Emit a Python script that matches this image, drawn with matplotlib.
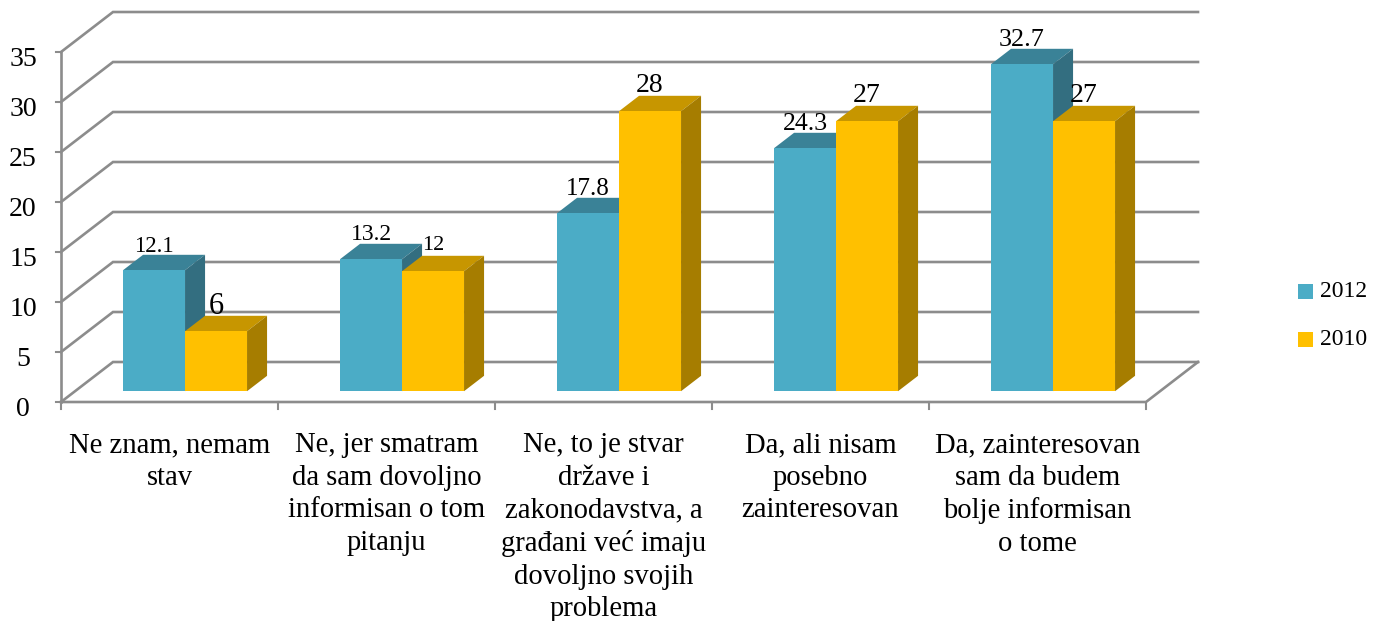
import matplotlib
matplotlib.use("Agg")
import matplotlib.pyplot as plt
from matplotlib.patches import Polygon, Rectangle

categories = ["Ne znam, nemam\nstav",
              "Ne, jer smatram\nda sam dovoljno\ninformisan o tom\npitanju",
              "Ne, to je stvar\ndržave i\nzakonodavstva, a\ngrađani već imaju\ndovoljno svojih\nproblema",
              "Da, ali nisam\nposebno\nzainteresovan",
              "Da, zainteresovan\nsam da budem\nbolje informisan\no tome"]
v2012 = [12.1, 13.2, 17.8, 24.3, 32.7]
v2010 = [6, 12, 28, 27, 27]
lab2012 = ["12.1", "13.2", "17.8", "24.3", "32.7"]
lab2010 = ["6", "12", "28", "27", "27"]
lab_size_2012 = [16.5, 17, 18, 18.5, 18.8]
lab_size_2010 = [22, 16, 20, 20, 20]
yticks = [0, 5, 10, 15, 20, 25, 30, 35]

W, H = 1383, 621
plt.rcParams['font.family'] = ['Liberation Serif', 'DejaVu Serif']
fig = plt.figure(figsize=(W/100, H/100), dpi=100, facecolor='white')
ax = fig.add_axes([0, 0, 1, 1])
# x unit: one category = 217 px; y unit: one value = 10 px
X0, Y0, CW, VH = 61, 402, 217, 10
ax.set_xlim(-X0/CW, (W-X0)/CW)
ax.set_ylim(-(H-Y0)/VH, Y0/VH)
ax.axis('off')

DX, DY = 52/CW, 40/VH     # whole floor depth
def P(c, v, d=0.0):
    return (c + d*DX, v + d*DY)

GRID = '#8c8c8c'
for t in yticks:
    ax.plot(*zip(P(0, t), P(0, t, 1), P(5, t, 1)), color=GRID, lw=1.9, zorder=1, solid_joinstyle='miter')
    ax.plot(*zip(P(0, t), (P(0, t)[0]-5/CW, t)), color=GRID, lw=1.5, zorder=1)
    ax.text(P(0, t)[0]-38/CW, t-0.75, str(t), ha='center', va='center', fontsize=20, color='black')
ax.plot(*zip(P(0, 0), P(0, 35)), color=GRID, lw=1.9, zorder=1)
ax.plot(*zip(P(0, 0), P(5, 0), P(5, 0, 1)), color=GRID, lw=1.9, zorder=1)
for i in range(6):
    ax.plot(*zip(P(i, 0), (i, -0.7)), color=GRID, lw=1.5, zorder=1)

D0, D1 = 0.27, 0.655
BW = 62/CW
OFFS = 48/CW
def bar(x, val, face, top, side, z):
    ax.add_patch(Polygon([P(x, val, D0), P(x+BW, val, D0), P(x+BW, val, D1), P(x, val, D1)], fc=top, ec='none', zorder=z))
    ax.add_patch(Polygon([P(x+BW, 0, D0), P(x+BW, val, D0), P(x+BW, val, D1), P(x+BW, 0, D1)], fc=side, ec='none', zorder=z))
    ax.add_patch(Polygon([P(x, 0, D0), P(x+BW, 0, D0), P(x+BW, val, D0), P(x, val, D0)], fc=face, ec='none', zorder=z))

C12 = ('#4bacc6', '#3a8297', '#336e80')
C10 = ('#ffc000', '#c79600', '#a67d00')
for i in range(5):
    x1 = i + OFFS
    x2 = x1 + BW
    bar(x1, v2012[i], *C12, 3)
    bar(x2, v2010[i], *C10, 4)
    xc1 = P(x1 + BW/2, 0, D0)[0]
    xc2 = P(x2 + BW/2, 0, D0)[0]
    ax.text(xc1, v2012[i] + 3.5, lab2012[i], ha='center', va='center', fontsize=lab_size_2012[i], zorder=6)
    ax.text(xc2, v2010[i] + 3.6, lab2010[i], ha='center', va='center', fontsize=lab_size_2010[i], zorder=6)
    ax.text(i + 0.5, -3.0, categories[i], ha='center', va='top', fontsize=20.6, linespacing=1.33, zorder=6)

for lab, col, py in (("2012", C12[0], 291.5), ("2010", C10[0], 339.5)):
    x = (1298 - X0)/CW
    y = (Y0 - py)/VH
    ax.add_patch(Rectangle((x, y-0.75), 15/CW, 1.5, fc=col, ec='none'))
    ax.text((1320-X0)/CW, y, lab, ha='left', va='center', fontsize=17)

fig.savefig("out.png", dpi=100)
